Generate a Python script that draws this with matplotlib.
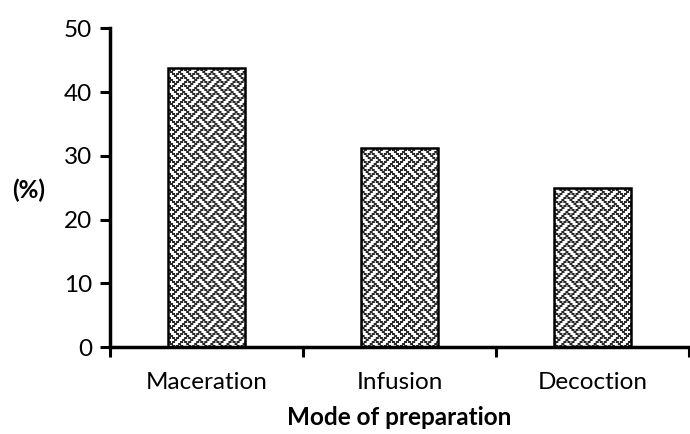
import numpy as np
import matplotlib
matplotlib.use("Agg")
import matplotlib.pyplot as plt

categories = ["Maceration", "Infusion", "Decoction"]
values = [43.75, 31.25, 25.0]
yticks = [0, 10, 20, 30, 40, 50]

plt.rcParams['font.family'] = ['Lato', 'DejaVu Sans']

fig = plt.figure(figsize=(6.9, 4.34), dpi=100)
ax = fig.add_axes([0.160, 0.200, 0.838, 0.735])

x = np.arange(len(categories))
bars = ax.bar(x, values, width=0.4, facecolor='none', edgecolor='black',
              linewidth=1.8, zorder=3)

# weave pattern fill (texture, clipped to bars)
tile = np.array([0x88, 0x54, 0x22, 0x45, 0x88, 0x15, 0x22, 0x51], dtype=np.uint8)
bits = np.unpackbits(tile[:, None], axis=1)
bits = np.kron(bits, np.ones((2, 2), dtype=np.uint8))
thick = bits | np.roll(bits, 1, axis=1)
W, H = 580, 320
big = np.tile(thick, (H // 16 + 1, W // 16 + 1))[:H, :W]
img = 1.0 - 0.85 * big
for b in bars:
    im = ax.imshow(img, cmap='gray', vmin=0, vmax=1, extent=[0, 1, 0, 1],
                   transform=ax.transAxes, interpolation='bilinear',
                   aspect='auto', zorder=2)
    im.set_clip_path(b)

ax.set_xlim(-0.5, 2.5)
ax.set_ylim(0, 50)
ax.set_aspect('auto')
ax.set_yticks(yticks)
ax.set_xticks([-0.5, 0.5, 1.5, 2.5])
ax.set_xticklabels([])
ax.set_xticks(x, minor=True)
ax.set_xticklabels(categories, minor=True)
ax.tick_params(axis='x', which='minor', length=0, pad=18, labelsize=17.5)
ax.tick_params(axis='x', which='major', length=7, width=2.2, direction='out')
ax.tick_params(axis='y', length=7, width=2.2, direction='out', labelsize=17.5, pad=6)

for s in ['top', 'right']:
    ax.spines[s].set_visible(False)
for s in ['left', 'bottom']:
    ax.spines[s].set_linewidth(2.5)

ax.set_xlabel("Mode of preparation", fontsize=17.5, fontweight='bold', labelpad=9)
fig.text(29 / 690, 1 - 190 / 434, "(%)", fontsize=17.5, fontweight='bold',
         ha='center', va='center')

fig.savefig("out.png", dpi=100)
